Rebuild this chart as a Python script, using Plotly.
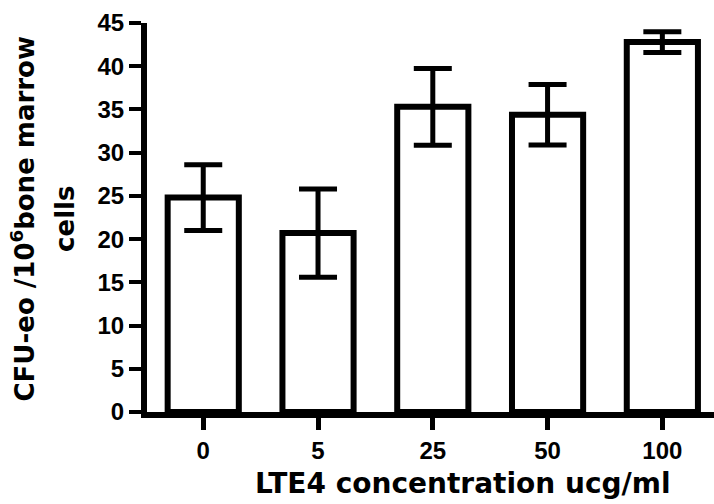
import plotly.graph_objects as go

categories = ["0", "5", "25", "50", "100"]
values = [24.8, 20.7, 35.3, 34.4, 42.8]
errors = [3.8, 5.1, 4.45, 3.5, 1.2]
y_ticks = [0, 5, 10, 15, 20, 25, 30, 35, 40, 45]

x_title = "LTE4 concentration ucg/ml"
y_title_1 = "CFU-eo /10<sup>6</sup>bone marrow"
y_title_2 = "cells"

tick_font = dict(family="Liberation Sans, Arial", size=24, color="black")
title_font = dict(family="DejaVu Sans, Liberation Sans", size=28, color="black")
ytitle_font = dict(family="DejaVu Sans, Liberation Sans", size=26, color="black")

fig = go.Figure()
fig.add_trace(go.Bar(
    x=list(range(len(categories))),
    y=values,
    width=0.62,
    marker=dict(color="white", line=dict(color="black", width=6)),
    error_y=dict(type="data", array=errors, visible=True, color="black",
                 thickness=5, width=19),
    showlegend=False,
))

fig.update_layout(
    width=714, height=504,
    margin=dict(l=147, r=0, t=23, b=92),
    paper_bgcolor="white", plot_bgcolor="white",
    xaxis=dict(
        range=[-0.49, 4.45],
        tickmode="array",
        tickvals=list(range(len(categories))),
        ticktext=["<b>%s</b>" % c for c in categories],
        showline=True, linecolor="black", linewidth=6,
        ticks="outside", ticklen=12, tickwidth=5, tickcolor="black",
        showgrid=False, zeroline=False,
        tickfont=tick_font,
    ),
    yaxis=dict(
        range=[0, 45],
        tickmode="array",
        tickvals=y_ticks,
        ticktext=["<b>%d</b>" % t for t in y_ticks],
        showline=True, linecolor="black", linewidth=6,
        ticks="outside", ticklen=12, tickwidth=4, tickcolor="black",
        showgrid=False, zeroline=False,
        tickfont=tick_font,
    ),
    annotations=[
        dict(text="<b>%s</b>" % x_title, xref="paper", yref="paper", x=0.557, y=-0.185,
             xanchor="center", yanchor="middle",
             showarrow=False, font=title_font),
        dict(text="<b>%s</b>" % y_title_1, xref="paper", yref="paper", x=-0.219, y=0.497,
             xanchor="center", yanchor="middle", textangle=-90,
             showarrow=False, font=ytitle_font),
        dict(text="<b>%s</b>" % y_title_2, xref="paper", yref="paper", x=-0.146, y=0.497,
             xanchor="center", yanchor="middle", textangle=-90,
             showarrow=False, font=ytitle_font),
    ],
)

fig.write_html("out.html")
